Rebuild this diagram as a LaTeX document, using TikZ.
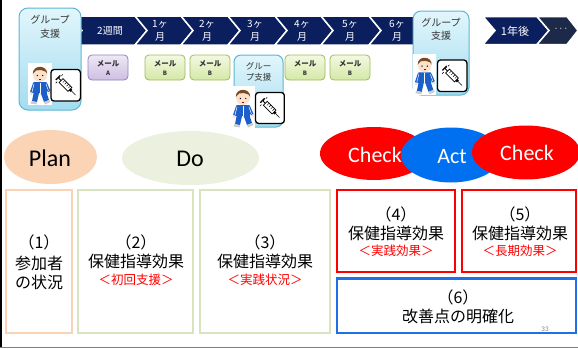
\documentclass[tikz,border=0pt]{standalone}
\usepackage{fontspec}
\setmainfont{Carlito}
\newfontfamily\jp{Noto Sans CJK JP}
\usetikzlibrary{shapes.geometric}

\definecolor{navy}{HTML}{0B1F5E}
\definecolor{navydark}{HTML}{1C2949}
\definecolor{grpedge}{HTML}{5FB6D2}
\definecolor{grptop}{HTML}{E2F6FC}
\definecolor{grpbot}{HTML}{A3DCEF}
\definecolor{mailAedge}{HTML}{9480BC}
\definecolor{mailAtop}{HTML}{EEE8F6}
\definecolor{mailAbot}{HTML}{CDBFE2}
\definecolor{mailBedge}{HTML}{9DBB5C}
\definecolor{mailBtop}{HTML}{F3F9E2}
\definecolor{mailBbot}{HTML}{D5E8A6}
\definecolor{planfill}{HTML}{FBD3B5}
\definecolor{dofill}{HTML}{EBF1DE}
\definecolor{planedge}{HTML}{FAD3B6}
\definecolor{doedge}{HTML}{D7E4BD}
\definecolor{checkred}{HTML}{FF0000}
\definecolor{actblue}{HTML}{0070F0}
\definecolor{sixblue}{HTML}{1F6FE8}
\definecolor{suitblue}{HTML}{1D5FC8}
\definecolor{skin}{HTML}{FCE1CB}
\definecolor{hair}{HTML}{7A4A22}
\definecolor{txtgray}{HTML}{333333}

\tikzset{
  chev/.style={fill=navy, draw=white, line width=1.5pt},
  tltext/.style={text=white, font=\jp\fontsize{10}{10}\selectfont, inner sep=0},
  grpbox/.style={draw=grpedge, line width=1pt, top color=grptop, bottom color=grpbot},
  grptext/.style={text=txtgray, font=\jp\fontsize{10}{10}\selectfont, inner sep=0},
  mailA/.style={draw=mailAedge, line width=0.8pt, top color=mailAtop, bottom color=mailAbot, rounded corners=4pt},
  mailB/.style={draw=mailBedge, line width=0.8pt, top color=mailBtop, bottom color=mailBbot, rounded corners=4pt},
  mailtext/.style={text=txtgray, font=\jp\bfseries\fontsize{7.5}{7.5}\selectfont, inner sep=0},
  mailletter/.style={text=txtgray, font=\jp\bfseries\fontsize{6}{6}\selectfont, inner sep=0},
  phase/.style={ellipse, inner sep=0},
  bigtext/.style={font=\jp\fontsize{16}{16}\selectfont, inner sep=0},
  redtext/.style={text=checkred, font=\jp\fontsize{12.5}{12.5}\selectfont, inner sep=0},
}

% walking child in a blue tracksuit, local frame 24 x 42
\newcommand\kid[3]{%
  \begin{scope}[shift={(#1,#2)}, scale=#3]
    \fill[white] (0,0) rectangle (24,42);
    % legs and shoes
    \fill[suitblue] (6,28) -- (11.5,28) -- (9,39) -- (4,38) -- cycle;
    \fill[suitblue] (12,28) -- (18,28) -- (21,37) -- (16,39) -- cycle;
    \fill[gray!40] (3.5,38) -- (9,39.5) -- (8.5,41.5) -- (2.5,40.5) -- cycle;
    \fill[gray!40] (16,39) -- (21.5,37) -- (22.5,39) -- (17,41.5) -- cycle;
    % arms
    \fill[suitblue] (5,20) -- (2,29) -- (4.5,30) -- (7.5,22) -- cycle;
    \fill[suitblue] (19,20) -- (22.5,28) -- (20,29.5) -- (16.5,22) -- cycle;
    \fill[skin] (3.2,30.8) circle (1.6);
    \fill[skin] (21.5,30) circle (1.6);
    % torso
    \fill[suitblue] (5.5,19) -- (18.5,19) -- (19,30) -- (5,30) -- cycle;
    \draw[white, line width=0.6pt] (12,19.5) -- (12,30);
    \draw[white, line width=0.5pt] (6,21) -- (4,29);
    \draw[white, line width=0.5pt] (18,21) -- (20.5,28);
    % head
    \fill[skin] (12,11.5) ellipse (7 and 7.5);
    \fill[hair] (4.8,11) .. controls (4.5,1.5) and (19.5,1.5) .. (19.2,11)
      -- (17.5,8.5) -- (13,7) -- (8,7.5) -- (6,9.5) -- cycle;
    \fill[black] (9.3,12.5) circle (0.7);
    \fill[black] (14.7,12.5) circle (0.7);
    \draw[red!60!black, line width=0.4pt] (11,16) -- (13,16);
  \end{scope}}

% syringe pictogram in a framed square, local frame 28 x 30
\newcommand\syr[3]{%
  \begin{scope}[shift={(#1,#2)}, scale=#3]
    \draw[black, line width=1.3pt, fill=white, rounded corners=3pt] (0,0) rectangle (28,30);
    \begin{scope}[shift={(14.5,15.5)}, rotate=-45]
      \draw[black, line width=0.7pt, fill=white] (-7,-2.6) rectangle (5,2.6);
      \foreach \t in {-4.5,-2,0.5,3} \draw[black, line width=0.4pt] (\t,-2.6) -- (\t,0);
      \fill[black] (5,-1.3) rectangle (7,1.3);
      \draw[black, line width=0.5pt] (7,0) -- (12.5,0);
      \draw[black, line width=0.9pt] (-7,0) -- (-11,0);
      \draw[black, line width=1pt] (-11,-3) -- (-11,3);
    \end{scope}
    \foreach \a/\b in {5/10, 7.5/8, 10/6, 4.5/13} \draw[black, line width=0.6pt] (\a,\b) -- ++(1.3,-1.3);
  \end{scope}}

\begin{document}
\begin{tikzpicture}[x=1pt, y=-1pt]
  \useasboundingbox (0,0) rectangle (578,348);
  \fill[white] (0,0) rectangle (578,348);

  % ---------- timeline band ----------
  \foreach \a/\b in {70/135, 135/181, 181/228, 228/275, 275/321, 321/369}
    \filldraw[chev] (\a,16) -- (\b,16) -- (\b+12,30.5) -- (\b,45) -- (\a,45) -- (\a+12,30.5) -- cycle;
  \filldraw[chev] (369,16) -- (420,16) -- (420,45) -- (369,45) -- (381,30.5) -- cycle;
  \filldraw[chev] (483,16.5) -- (537,16.5) -- (549,30.5) -- (537,44.5) -- (483,44.5) -- (495,30.5) -- cycle;
  \filldraw[chev, fill=navydark] (537,16.5) -- (567,16.5) -- (578,30.5) -- (567,44.5) -- (537,44.5) -- (549,30.5) -- cycle;

  \node[tltext] (w2) at (110,31) {2週間};
  \foreach \n/\x in {1/160, 2/207, 3/255, 4/302, 5/350, 6/397} {
    \node[tltext] (m\n a) at (\x,24.5) {\n ヶ};
    \node[tltext] (m\n b) at (\x,37) {月};
  }
  \node[tltext, font=\jp\fontsize{11}{11}\selectfont] (y1) at (515,31) {1年後};
  \node[tltext, font=\fontsize{11}{11}\selectfont] (etc) at (561,29) {$\cdots$};

  % ---------- group sessions ----------
  \draw[grpbox, rounded corners=9pt] (19,8) rectangle (81,110);
  \node[grptext] (g1a) at (50,20) {グループ};
  \node[grptext] (g1b) at (50,33.5) {支援};
  \kid{28}{63}{1}
  \syr{51}{69.5}{1.05}

  \draw[grpbox, rounded corners=7pt] (234,55) rectangle (283,127);
  \node[grptext, font=\jp\fontsize{8.5}{8.5}\selectfont] (g2a) at (258.5,66.5) {グルー};
  \node[grptext, font=\jp\fontsize{8.5}{8.5}\selectfont] (g2b) at (258.5,77.5) {プ支援};
  \kid{231}{86}{1}
  \syr{255.5}{92.5}{1.03}

  \draw[grpbox, rounded corners=8pt] (413,11) rectangle (469,95);
  \node[grptext] (g3a) at (441,22.5) {グループ};
  \node[grptext] (g3b) at (441,35.5) {支援};
  \kid{413}{54}{0.97}
  \syr{437.5}{60}{1.05}

  % ---------- mail support ----------
  \draw[mailA] (88,55) rectangle (128,80);
  \node[mailtext] (mA) at (108,63.5) {メール};
  \node[mailletter] (mAl) at (108,73.5) {A};
  \foreach \x [count=\i] in {145,190,285,330} {
    \draw[mailB] (\x,55) rectangle (\x+40,80);
    \node[mailtext] (mB\i) at (\x+20,63.5) {メール};
    \node[mailletter] (mB\i l) at (\x+20,73.5) {B};
  }

  % ---------- PDCA phases ----------
  \node[phase, fill=planfill, minimum width=93pt, minimum height=54pt] (plan) at (50.5,157) {};
  \node[font=\fontsize{24}{24}\selectfont, inner sep=0] (plant) at (50,158) {Plan};
  \node[phase, fill=dofill, minimum width=137pt, minimum height=54pt] (do) at (190.5,158) {};
  \node[font=\fontsize{24}{24}\selectfont, inner sep=0] (dot) at (190,159) {Do};
  \node[phase, fill=checkred, minimum width=108pt, minimum height=53pt] (chk1) at (374,153.5) {};
  \node[text=white, font=\fontsize{22}{22}\selectfont, inner sep=0] (chk1t) at (375,155) {Check};
  \node[phase, fill=actblue, minimum width=100pt, minimum height=55pt] (act) at (451,155) {};
  \node[text=white, font=\fontsize{22}{22}\selectfont, inner sep=0] (actt) at (452,157) {Act};
  \node[phase, fill=checkred, minimum width=108pt, minimum height=54pt] (chk2) at (526,152.5) {};
  \node[text=white, font=\fontsize{22}{22}\selectfont, inner sep=0] (chk2t) at (527,153) {Check};

  % ---------- evaluation items ----------
  \draw[planedge, line width=2pt] (6,190) rectangle (72,333);
  \draw[doedge, line width=2pt] (78,190) rectangle (193,333);
  \draw[doedge, line width=2pt] (200,190) rectangle (330,333);
  \draw[checkred, line width=2.2pt] (337,190) rectangle (455,272);
  \draw[checkred, line width=2.2pt] (462,190) rectangle (576,272);
  \draw[sixblue, line width=2.5pt] (337,278.5) rectangle (576,333);

  \node[bigtext] (i1a) at (39,242) {（1）};
  \node[bigtext] (i1b) at (39,263.5) {参加者};
  \node[bigtext] (i1c) at (39,282.5) {の状況};

  \node[bigtext] (i2a) at (136,242) {（2）};
  \node[bigtext] (i2b) at (136,261.5) {保健指導効果};
  \node[redtext] (i2c) at (136,279.5) {＜初回支援＞};

  \node[bigtext] (i3a) at (265,242) {（3）};
  \node[bigtext] (i3b) at (265,261.5) {保健指導効果};
  \node[redtext] (i3c) at (265,279.5) {＜実践状況＞};

  \node[bigtext] (i4a) at (396,214) {（4）};
  \node[bigtext] (i4b) at (396,233.5) {保健指導効果};
  \node[redtext] (i4c) at (396,251) {＜実践効果＞};

  \node[bigtext] (i5a) at (520,214) {（5）};
  \node[bigtext] (i5b) at (520,233.5) {保健指導効果};
  \node[redtext] (i5c) at (520,251) {＜長期効果＞};

  \node[bigtext] (i6a) at (458,297) {（6）};
  \node[bigtext] (i6b) at (458,316.5) {改善点の明確化};

  \node[text=gray, font=\fontsize{7}{7}\selectfont, inner sep=0] (pg) at (545,329) {33};

  % ---------- frame lines ----------
  \fill[black] (0,0) rectangle (2,348);
  \fill[gray] (0,346.5) rectangle (578,348);
\end{tikzpicture}
\end{document}
